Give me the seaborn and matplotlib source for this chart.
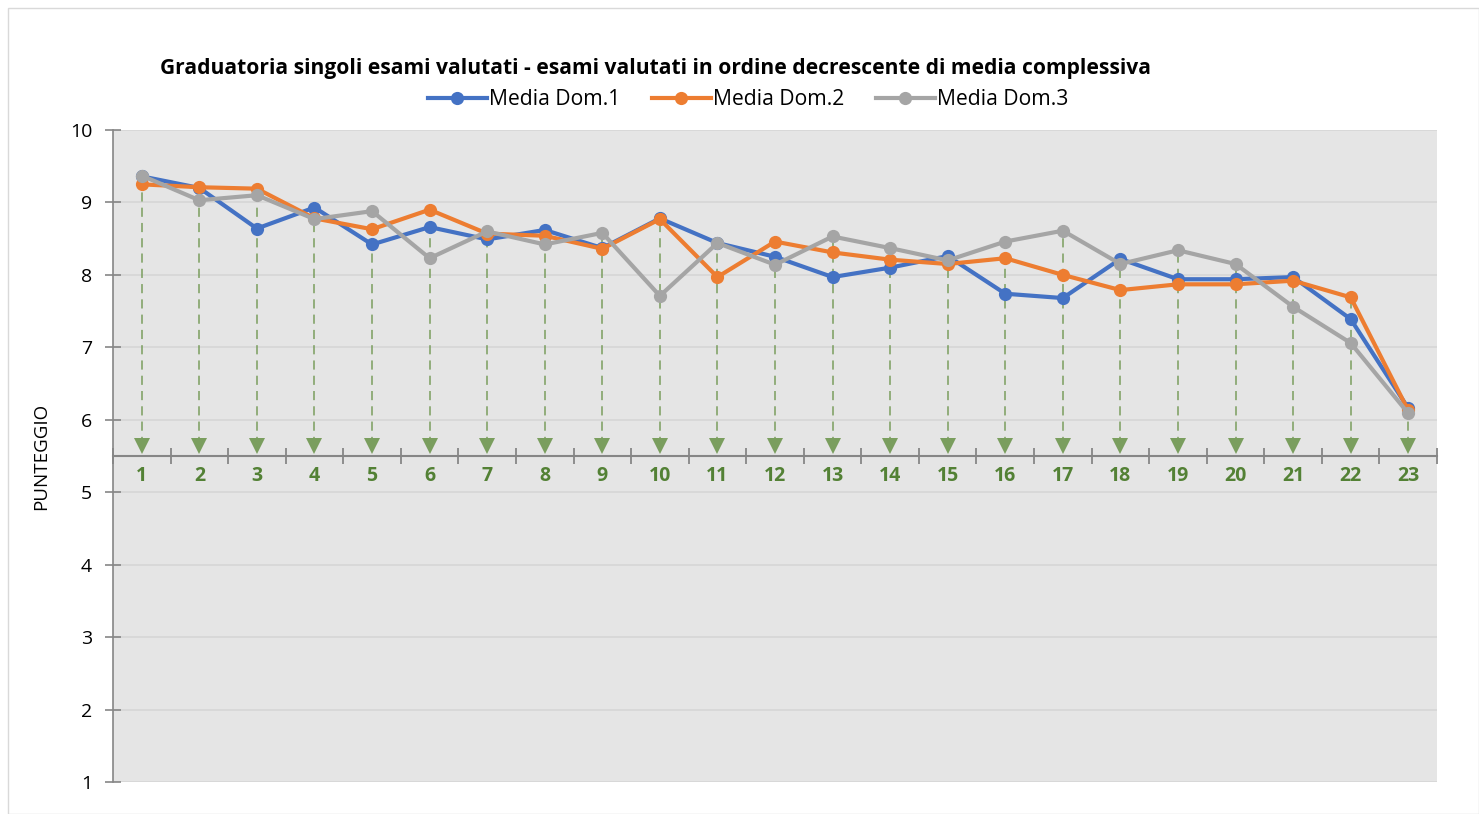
"""
plot.py
Graduatoria singoli esami valutati - line chart of three domain averages.
"""

import pandas as pd
import seaborn as sns
import matplotlib.pyplot as plt
from matplotlib.lines import Line2D
from matplotlib.patches import Rectangle

# Data
esami = list(range(1, 24))
media_dom1 = [9.36, 9.20, 8.64, 8.93, 8.42, 8.66, 8.49, 8.62, 8.37, 8.78, 8.44, 8.25,
              7.97, 8.10, 8.26, 7.74, 7.68, 8.22, 7.94, 7.94, 7.97, 7.39, 6.16]
media_dom2 = [9.25, 9.21, 9.19, 8.78, 8.63, 8.90, 8.57, 8.54, 8.36, 8.77, 7.97, 8.46,
              8.31, 8.21, 8.15, 8.23, 8.00, 7.79, 7.87, 7.87, 7.92, 7.69, 6.13]
media_dom3 = [9.37, 9.03, 9.10, 8.77, 8.88, 8.23, 8.60, 8.42, 8.58, 7.71, 8.44, 8.14,
              8.53, 8.37, 8.20, 8.46, 8.61, 8.15, 8.34, 8.15, 7.56, 7.06, 6.09]
serie = ["Media Dom.1", "Media Dom.2", "Media Dom.3"]
colori = ["#4472C4", "#ED7D31", "#A5A5A5"]
y_ticks = list(range(1, 11))

TITLE = "Graduatoria singoli esami valutati - esami valutati in ordine decrescente di media complessiva"
GREEN = "#538135"
DROP = "#7A9E5E"


def main():
    df = pd.DataFrame({
        "esame": esami * 3,
        "punteggio": media_dom1 + media_dom2 + media_dom3,
        "serie": [s for s in serie for _ in esami],
    })

    plt.rcParams["font.family"] = ["Open Sans", "DejaVu Sans"]

    fig = plt.figure(figsize=(14.79, 8.14), dpi=100)
    ax = fig.add_axes([113 / 1479, 1 - 782 / 814, (1437 - 113) / 1479, (782 - 130) / 814])
    ax.set_facecolor("#E5E5E5")

    # green dashed drop lines from the top point of each exam down to the axis
    top = df.groupby("esame")["punteggio"].max()
    ax.vlines(top.index, 5.64, top.values, colors=DROP, linestyles=(0, (6, 4)),
              linewidth=1.1, zorder=2)
    ax.plot(top.index, [5.64] * len(top), linestyle="none", marker="v",
            markersize=11, color=DROP, markeredgewidth=0, zorder=2)

    sns.lineplot(data=df, x="esame", y="punteggio", hue="serie", palette=colori,
                 marker="o", markersize=9.5, markeredgewidth=0, linewidth=3,
                 legend=False, ax=ax, zorder=3)

    ax.set_xlim(0.5, 23.5)
    ax.set_ylim(1, 10)
    ax.set_yticks(y_ticks)
    ax.grid(axis="y", color="#D6D6D6", linewidth=1.2, zorder=0)
    ax.set_axisbelow(True)

    # category axis crossing at 5.5
    ax.spines["bottom"].set_position(("data", 5.5))
    ax.spines["bottom"].set_color("#868686")
    ax.spines["bottom"].set_linewidth(1.5)
    ax.spines["left"].set_color("#868686")
    ax.spines["left"].set_linewidth(1.2)
    ax.spines["top"].set_visible(False)
    ax.spines["right"].set_visible(False)

    ax.set_xticks(esami)
    ax.set_xticklabels([str(e) for e in esami], color=GREEN, fontweight="bold", fontsize=14)
    ax.set_xticks([e + 0.5 for e in range(0, 24)], minor=True)
    ax.tick_params(axis="x", which="major", length=0, pad=7)
    ax.tick_params(axis="x", which="minor", direction="inout", length=12,
                   color="#868686", width=1.3)
    ax.tick_params(axis="y", direction="inout", length=12, color="#868686",
                   width=1.2, labelsize=14, pad=9)

    ax.set_xlabel("")
    ax.set_ylabel("PUNTEGGIO", fontsize=13.5, labelpad=14)

    fig.text(655 / 1479, 1 - 68.5 / 814, TITLE, ha="center", va="center",
             fontsize=15.1, fontweight="bold")

    handles = [Line2D([], [], color=c, linewidth=3, marker="o", markersize=9.5,
                      markeredgewidth=0) for c in colori]
    fig.legend(handles, serie, loc="center", bbox_to_anchor=(748 / 1479, 1 - 99.5 / 814),
               ncol=3, frameon=False, fontsize=15.2, handlelength=2.8,
               handletextpad=0.1, columnspacing=1.5)

    fig.patches.append(Rectangle((8 / 1479, 0), 1 - 8 / 1479, 1 - 8 / 814,
                                 transform=fig.transFigure, fill=False,
                                 edgecolor="#D9D9D9", linewidth=1))

    fig.savefig("out.png", dpi=100)
    plt.close(fig)


if __name__ == "__main__":
    main()
